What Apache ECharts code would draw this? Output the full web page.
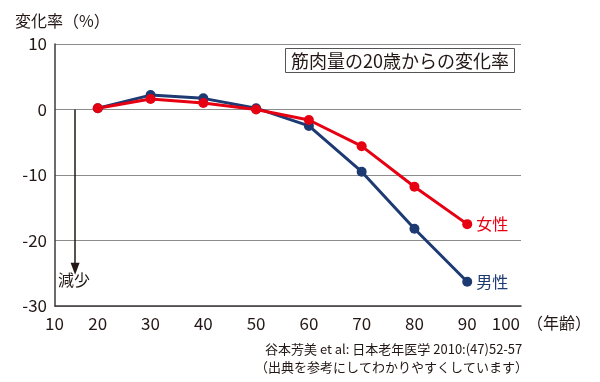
<!DOCTYPE html>
<html><head><meta charset="utf-8">
<script src="https://cdn.jsdelivr.net/npm/echarts@6/dist/echarts.min.js"></script>
<style>html,body{margin:0;padding:0;background:#fff}#c{width:600px;height:382px}</style>
</head><body><div id="c"></div>
<script>
const ages = [20, 30, 40, 50, 60, 70, 80, 90];
const male = [0.2, 2.2, 1.7, 0.2, -2.5, -9.5, -18.2, -26.3];
const female = [0.2, 1.6, 1.0, 0.0, -1.6, -5.6, -11.8, -17.5];
const seriesNames = ['男性', '女性'];
const xTicks = [10, 100, 10];
const yTicks = [-30, 10, 10];
const titleText = '筋肉量の20歳からの変化率';
const yName = '変化率（%）';
const xName = '（年齢）';
const arrowText = '減少';
const source1 = '谷本芳美 et al: 日本老年医学 2010:(47)52-57';
const source2 = '（出典を参考にしてわかりやすくしています）';

const FONT = '"Noto Sans CJK JP", "Noto Sans", sans-serif';
const TXT = '#231815';
const RED = '#e60012';
const BLUE = '#1d3a72';

const chart = echarts.init(document.getElementById('c'), null, {renderer: 'canvas'});
const pair = (xs, ys) => xs.map((x, i) => [x, ys[i]]);

chart.setOption({
  animation: false,
  textStyle: {fontFamily: FONT},
  title: {
    text: titleText, left: 285, top: 48,
    borderColor: '#555', borderWidth: 1, padding: [3, 6, 2, 6],
    textStyle: {fontFamily: FONT, fontSize: 18, lineHeight: 20, fontWeight: 'normal', color: TXT}
  },
  grid: [
    {left: 55, right: 79, top: 44, bottom: 76},
    {left: 45, right: 80, top: 44, bottom: 76}
  ],
  xAxis: [
    {gridIndex: 0, type: 'value', min: 0, max: 1, axisLabel: {show: false}, axisTick: {show: false},
     splitLine: {show: false}, axisLine: {onZero: false, lineStyle: {color: '#3e3a39', width: 1.5}}},
    {gridIndex: 1, type: 'value', min: xTicks[0], max: xTicks[1], interval: xTicks[2],
     axisLine: {show: false, onZero: false}, axisTick: {show: false}, splitLine: {show: false},
     axisLabel: {fontSize: 17, color: TXT, margin: 9, fontFamily: FONT,
                 alignMinLabel: 'left', alignMaxLabel: 'right'}}
  ],
  yAxis: [
    {gridIndex: 0, type: 'value', min: yTicks[0], max: yTicks[1], interval: yTicks[2],
     axisLine: {show: true, onZero: false, lineStyle: {color: '#3e3a39', width: 1.5}}, axisTick: {show: false},
     splitLine: {lineStyle: {color: '#8c8c8c', width: 1}},
     axisLabel: {fontSize: 17, color: TXT, margin: 8, fontFamily: FONT}},
    {gridIndex: 1, type: 'value', min: yTicks[0], max: yTicks[1], interval: yTicks[2],
     show: false}
  ],
  series: [
    {name: seriesNames[0], type: 'line', xAxisIndex: 1, yAxisIndex: 1,
     data: pair(ages, male), symbol: 'circle', symbolSize: 10,
     lineStyle: {color: BLUE, width: 3}, itemStyle: {color: BLUE},
     endLabel: {show: true, formatter: '{a}', color: BLUE, fontSize: 16, distance: 9, fontFamily: FONT}},
    {name: seriesNames[1], type: 'line', xAxisIndex: 1, yAxisIndex: 1,
     data: pair(ages, female), symbol: 'circle', symbolSize: 10,
     lineStyle: {color: RED, width: 3}, itemStyle: {color: RED},
     endLabel: {show: true, formatter: '{a}', color: RED, fontSize: 16, distance: 9, fontFamily: FONT},
     markLine: {
       silent: true, symbol: ['none', 'triangle'], symbolSize: [9, 12],
       label: {show: false},
       lineStyle: {color: TXT, width: 1.5, type: 'solid'},
       data: [[{coord: [15.7, 0]}, {coord: [15.7, -24.3]}]]
     }}
  ],
  graphic: [
    {type: 'text', left: 15, top: 13, style: {text: yName, fontSize: 16, fill: TXT, fontFamily: FONT}},
    {type: 'text', left: 58, top: 272, style: {text: arrowText, fontSize: 16, fill: TXT, fontFamily: FONT}},
    {type: 'text', left: 527, top: 315, style: {text: xName, fontSize: 16, fill: TXT, fontFamily: FONT}},
    {type: 'text', left: 265, top: 343, style: {text: source1, fontSize: 13, fill: TXT, fontFamily: FONT}},
    {type: 'text', left: 255, top: 361, style: {text: source2, fontSize: 13, fill: TXT, fontFamily: FONT}}
  ]
});
</script></body></html>
